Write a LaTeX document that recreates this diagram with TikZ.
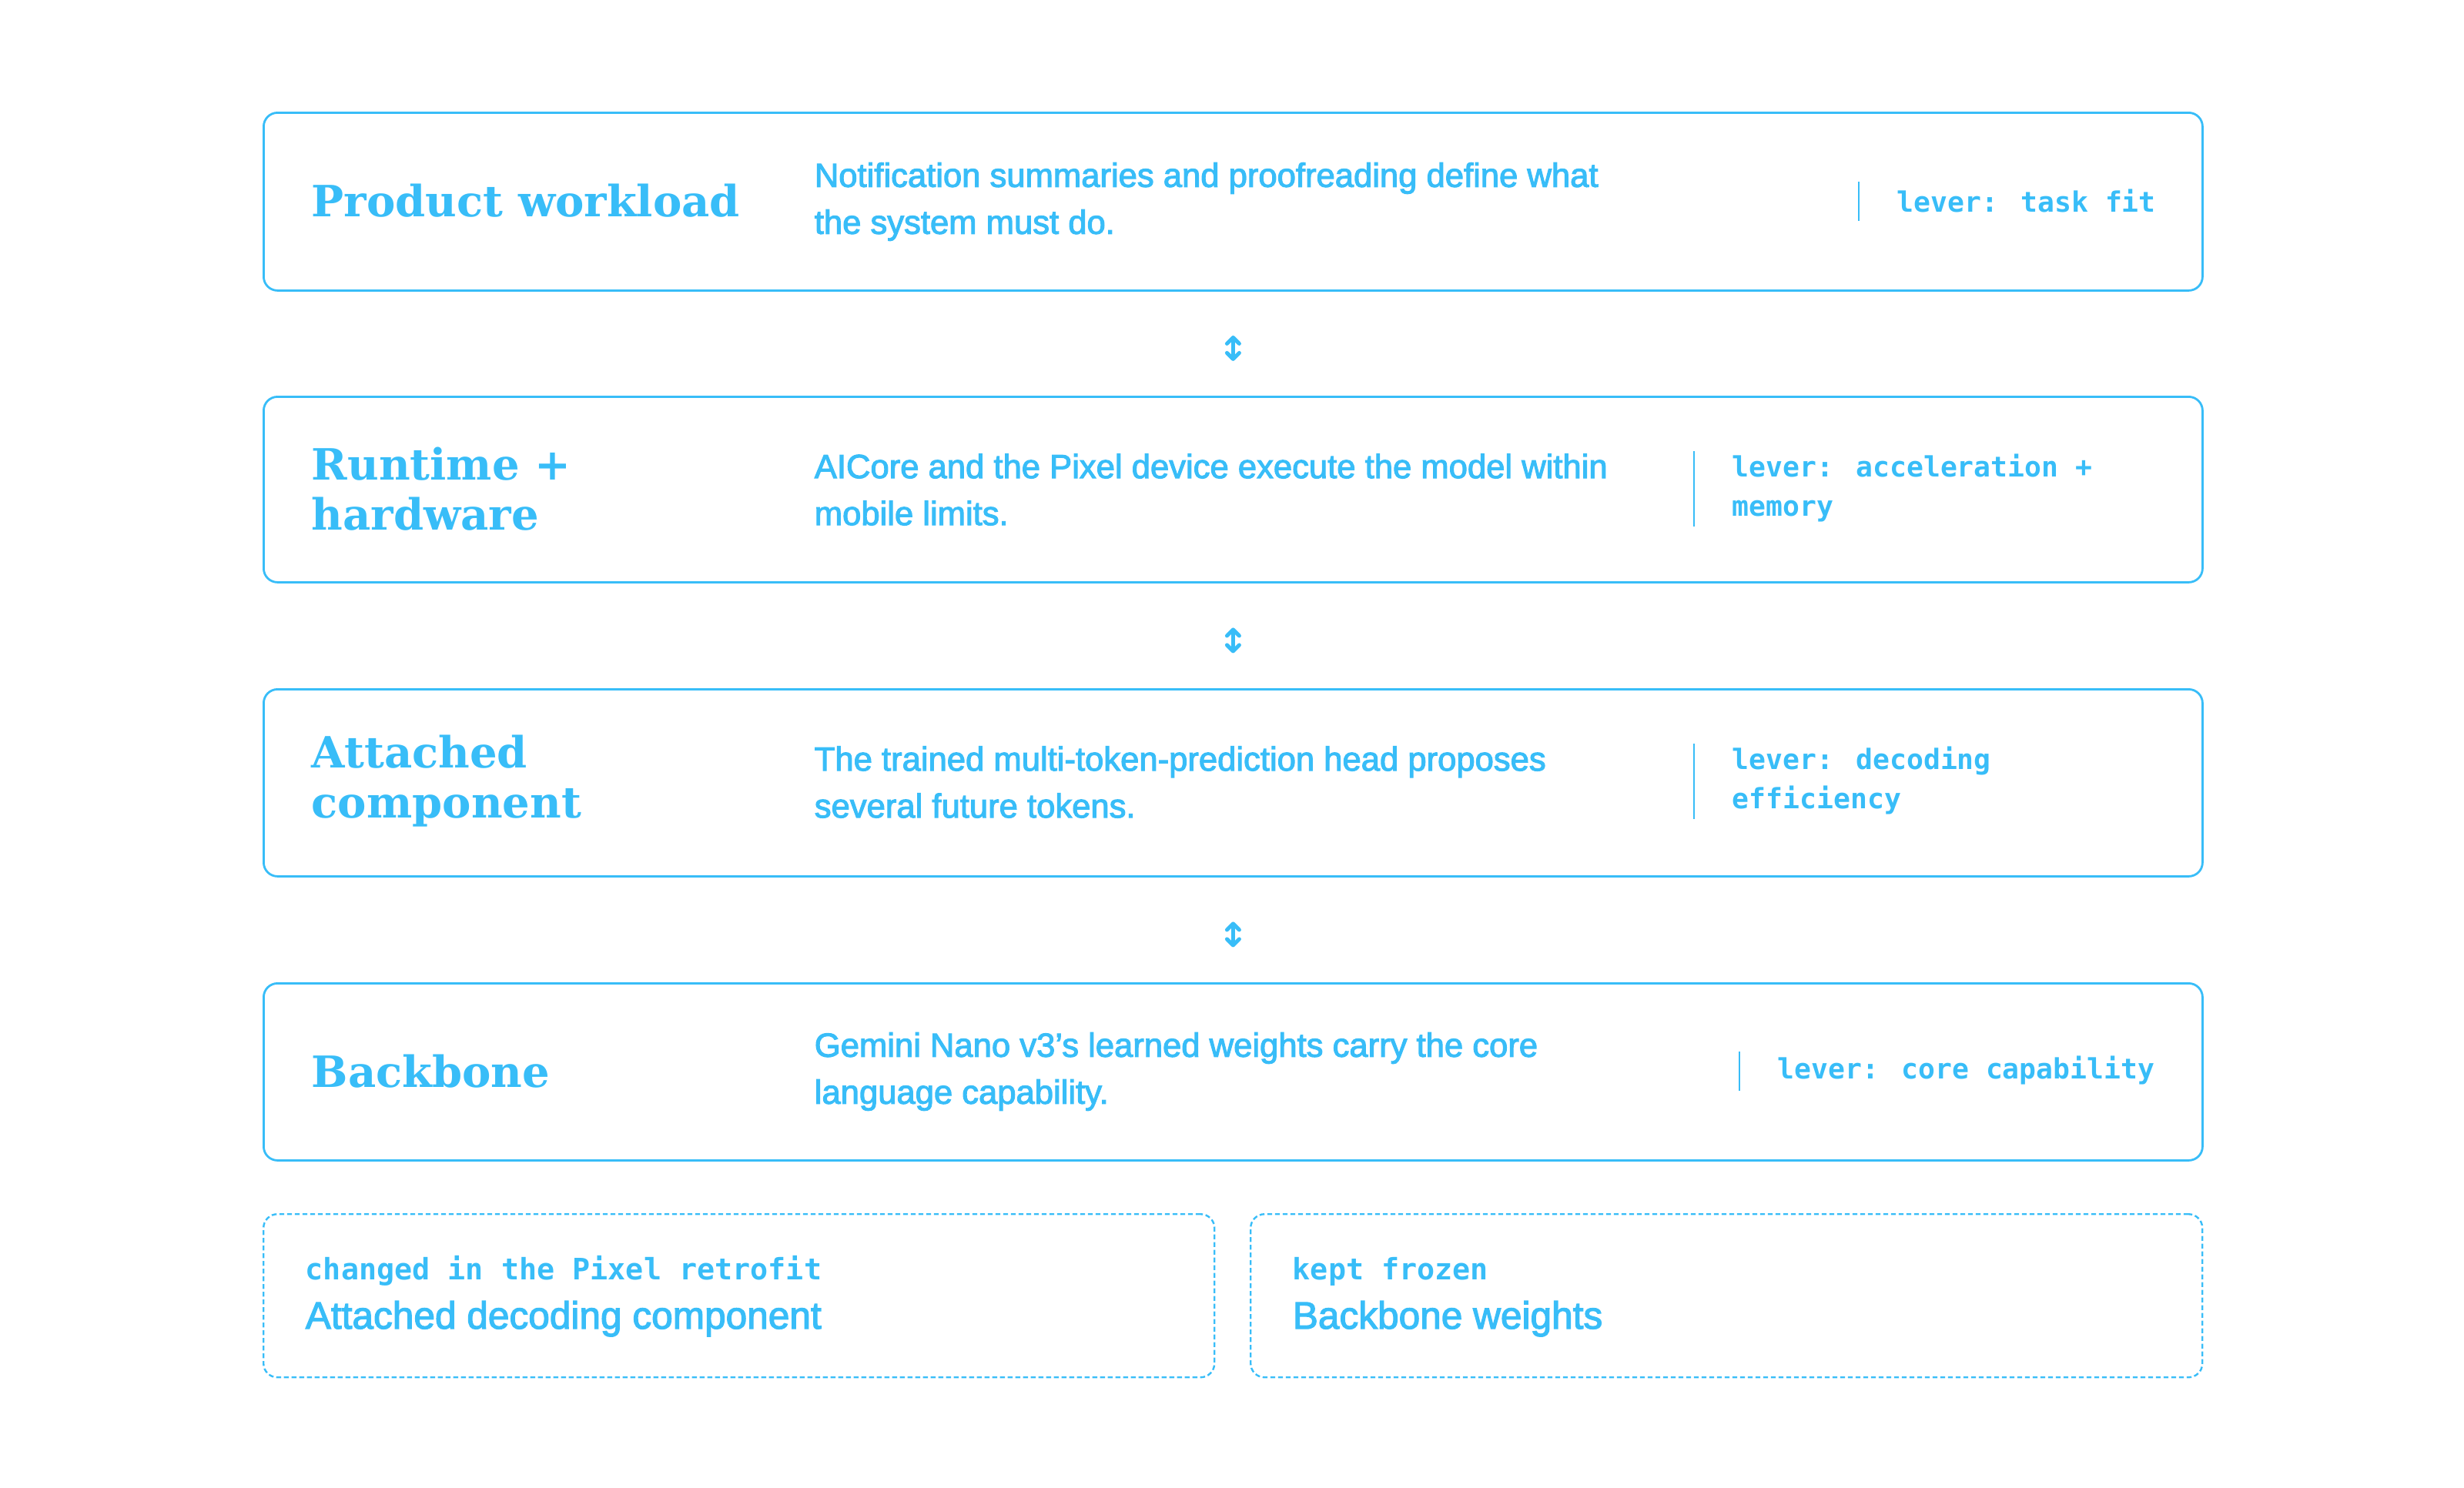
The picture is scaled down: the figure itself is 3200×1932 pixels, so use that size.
\documentclass[tikz,border=0pt]{standalone}
\usepackage{fontspec}
\setmainfont{Liberation Sans}
\newfontfamily\titlefont{DejaVu Serif}
\newfontfamily\codefont{DejaVu Sans Mono}
\newfontfamily\medfont{Liberation Sans}[FakeBold=2.5]
\usetikzlibrary{arrows.meta,calc}
\definecolor{sky}{HTML}{38BDF8}
\tikzset{
  layerbox/.style={draw=sky, line width=0.7pt, rounded corners=4.5pt, minimum width=629.5pt, anchor=north west, inner sep=0pt},
  notebox/.style={draw=sky, line width=0.6pt, dash pattern=on 1.6pt off 0.9pt, rounded corners=4.5pt, minimum height=53pt, anchor=north west, inner sep=0pt},
  title/.style={text=sky, anchor=west, align=left, inner sep=0pt, font=\titlefont\bfseries\fontsize{14pt}{16.25pt}\selectfont},
  desc/.style={text=sky, anchor=west, align=left, inner sep=0pt, font=\medfont\fontsize{10.9pt}{15.25pt}\selectfont},
  lever/.style={text=sky, anchor=west, align=left, inner sep=0pt, font=\codefont\bfseries\fontsize{9.1pt}{12.75pt}\selectfont},
  sep/.style={draw=sky, line width=0.6pt},
  tag/.style={text=sky, anchor=base west, inner sep=0pt, font=\codefont\bfseries\fontsize{9.6pt}{12pt}\selectfont},
  big/.style={text=sky, anchor=base west, inner sep=0pt, font=\medfont\fontsize{12.4pt}{15pt}\selectfont},
  updown/.style={draw=sky, line width=1.25pt, line cap=round, line join=round}
}
\begin{document}
\begin{tikzpicture}[x=0.25pt,y=-0.25pt]
\useasboundingbox (0,0) rectangle (3200,1932);
% layer boxes
\node[layerbox, minimum height=57.75pt] (b1) at (341,145) {};
\node[layerbox, minimum height=60.25pt] (b2) at (341,514) {};
\node[layerbox, minimum height=60.75pt] (b3) at (341,894) {};
\node[layerbox, minimum height=57.5pt] (b4) at (341,1276) {};
% box 1
\node[title] (t1) at (404,261) {Product workload};
\node[desc] (d1) at (1057,262) {Notification summaries and proofreading define what\\the system must do.};
\draw[sep] (2414,236) -- (2414,287);
\node[lever] (l1) at (2463,261) {lever: task fit};
% box 2
\node[title] (t2) at (404,635) {Runtime +\\hardware};
\node[desc] (d2) at (1057,636) {AICore and the Pixel device execute the model within\\mobile limits.};
\draw[sep] (2200,586) -- (2200,684);
\node[lever] (l2) at (2249,634) {lever: acceleration +\\memory};
% box 3
\node[title] (t3) at (404,1015) {Attached\\component};
\node[desc] (d3) at (1057,1016) {The trained multi-token-prediction head proposes\\several future tokens.};
\draw[sep] (2200,966) -- (2200,1064);
\node[lever] (l3) at (2249,1014) {lever: decoding\\efficiency};
% box 4
\node[title] (t4) at (404,1392) {Backbone};
\node[desc] (d4) at (1057,1392) {Gemini Nano v3’s learned weights carry the core\\language capability.};
\draw[sep] (2259,1366) -- (2259,1417);
\node[lever] (l4) at (2308,1390) {lever: core capability};
% arrows (double-headed)
\coordinate (m1) at ($(b1.south)!0.5!(b2.north)+(0,6)$);
\coordinate (m2) at ($(b2.south)!0.5!(b3.north)+(0,6)$);
\coordinate (m3) at ($(b3.south)!0.5!(b4.north)+(0,6)$);
\foreach \m in {m1,m2,m3}{
  \draw[updown] ($(\m)+(0,-13)$) -- ($(\m)+(0,13)$);
  \draw[updown] ($(\m)+(-8,-6)$) -- ($(\m)+(0,-14)$) -- ($(\m)+(8,-6)$);
  \draw[updown] ($(\m)+(-8,6)$) -- ($(\m)+(0,14)$) -- ($(\m)+(8,6)$);
}
% bottom boxes
\node[notebox, minimum width=308.75pt] (n1) at (341,1576) {};
\node[notebox, minimum width=309pt] (n2) at (1623,1576) {};
\node[tag] (g1) at (396,1662) {changed in the Pixel retrofit};
\node[big] (h1) at (396,1726) {Attached decoding component};
\node[tag] (g2) at (1678,1662) {kept frozen};
\node[big] (h2) at (1678,1726) {Backbone weights};
\end{tikzpicture}
\end{document}
